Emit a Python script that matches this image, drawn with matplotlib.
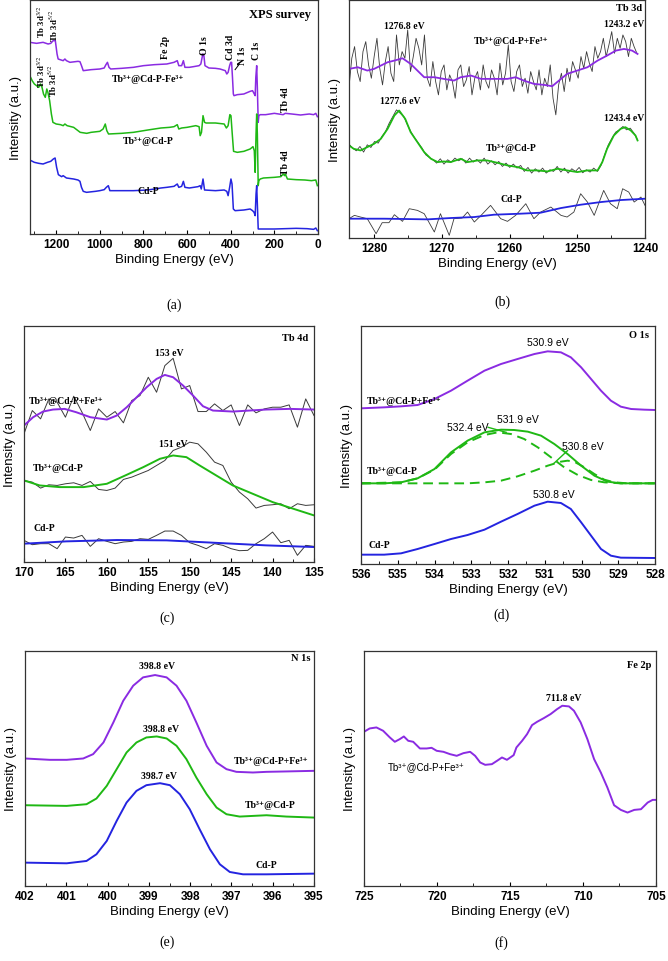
import numpy as np
import matplotlib
matplotlib.use('Agg')
import matplotlib.pyplot as plt
from matplotlib.ticker import MultipleLocator

plt.rcParams['font.family'] = ['Liberation Sans', 'DejaVu Sans']
plt.rcParams['mathtext.fontset'] = 'stix'

PURPLE = '#8a2be2'
GREEN = '#1fb814'
BLUE = '#2424e0'
GRAY = '#3a3a3a'
SERIF = ['Liberation Serif', 'DejaVu Serif']
SANS = ['Liberation Sans', 'DejaVu Sans']

# ---------------- (a) XPS survey ----------------
a_fe_x = [1321, 1290, 1260, 1237, 1225, 1214, 1204, 1196, 1191, 1168, 1160, 1153, 1137, 1100, 1091, 1084,
          1076, 1040, 1000, 980, 972, 965, 958, 950, 900, 846, 800, 750, 693, 660, 645, 638, 625, 617,
          610, 590, 571, 545, 537, 528, 523, 518, 500, 470, 449, 425, 418, 412, 405, 400, 396, 392, 388,
          385, 370, 340, 311, 300, 292, 288, 285, 281, 278, 274, 271, 265, 240, 200, 160, 150, 120, 80,
          40, 20, 10, 3]
a_fe_y = [575, 572, 575, 570, 572, 580, 580, 540, 525, 520, 525, 520, 515, 518, 517, 505,
          490, 493, 495, 498, 508, 515, 500, 495, 497, 500, 505, 508, 510, 515, 520, 505, 505, 520,
          500, 500, 502, 505, 510, 540, 535, 505, 498, 497, 495, 490, 480, 485, 505, 515, 515, 470, 420,
          415, 418, 420, 428, 430, 420, 415, 470, 505, 440, 335, 355, 358, 358, 362, 358, 362, 360, 357,
          360, 358, 362, 352]
a_tb_x = [1321, 1310, 1300, 1290, 1280, 1272, 1265, 1258, 1250, 1243, 1238, 1230, 1222, 1215, 1200, 1180,
          1168, 1160, 1150, 1120, 1100, 1090, 1060, 1040, 1000, 985, 975, 968, 960, 900, 846, 780, 720,
          680, 660, 645, 638, 625, 600, 560, 545, 540, 534, 527, 520, 513, 470, 430, 420, 412, 404, 399,
          393, 387, 370, 340, 311, 298, 292, 288, 284, 281, 278, 274, 271, 265, 250, 200, 170, 160, 153,
          150, 140, 100, 60, 30, 10, 3]
a_tb_y = [475, 460, 450, 445, 440, 450, 440, 420, 410, 435, 425, 400, 360, 335, 330, 328,
          325, 330, 325, 320, 310, 305, 302, 305, 308, 315, 330, 310, 300, 302, 305, 312, 318,
          320, 322, 328, 315, 318, 320, 325, 322, 295, 305, 355, 335, 333, 333, 330, 318, 325, 358, 355,
          300, 248, 245, 248, 255, 262, 250, 185, 300, 360, 300, 145, 160, 165, 168, 170, 172, 180, 175,
          180, 165, 163, 162, 160, 162, 145]
a_cd_x = [1321, 1300, 1280, 1260, 1240, 1225, 1213, 1205, 1198, 1190, 1175, 1168, 1153, 1120, 1100, 1091,
          1084, 1076, 1061, 1020, 1000, 980, 970, 961, 954, 900, 846, 780, 720, 693, 660, 645, 638, 625,
          617, 610, 590, 570, 550, 540, 535, 527, 520, 470, 430, 418, 412, 405, 399, 394, 388, 380, 340,
          311, 300, 293, 288, 284, 281, 278, 274, 271, 200, 100, 50, 20, 10, 3]
a_cd_y = [222, 215, 212, 210, 215, 218, 225, 228, 200, 178, 172, 175, 168, 165, 162, 158,
          140, 128, 125, 128, 130, 133, 140, 145, 130, 130, 130, 132, 138, 140, 143, 150, 140, 143,
          158, 140, 138, 140, 142, 145, 135, 165, 132, 130, 132, 128, 115, 140, 165, 150, 75, 70, 72,
          75, 70, 65, 55, 120, 145, 90, 15, 15, 15, 17, 16, 14, 18, 10]

# ---------------- (b) Tb 3d ----------------
b_fe_x = [1283.7, 1282.4, 1281.0, 1280.0, 1279.0, 1278.0, 1277.0, 1275.8, 1274.6, 1273.6, 1272.6, 1271.1,
          1269.7, 1268.2, 1267.2, 1265.7, 1264.2, 1262.3, 1260.3, 1259.1, 1257.9, 1256.4, 1254.9, 1253.7,
          1252.4, 1251.5, 1250.0, 1248.5, 1247.0, 1245.6, 1244.3, 1243.1, 1241.9, 1241.1]
b_fe_y = [508, 513, 503, 508, 518, 528, 533, 540, 523, 503, 483, 483, 478, 473, 483, 488, 478, 478, 478,
          483, 473, 463, 460, 456, 478, 493, 503, 513, 533, 548, 563, 568, 563, 553]
b_fe_raw = [453, 540, 575, 500, 470, 560, 590, 520, 480, 545, 600, 510, 460, 530, 575, 495, 470, 610, 520,
            560, 540, 625, 500, 545, 600, 570, 520, 610, 480, 455, 530, 470, 430, 500, 520, 445, 490, 470,
            420, 505, 520, 455, 475, 515, 430, 480, 500, 445, 520, 470, 450, 505, 480, 430, 525, 460, 495,
            580, 470, 440, 500, 520, 455, 480, 435, 500, 470, 445, 505, 430, 480, 455, 520, 420, 370, 460,
            495, 440, 510, 470, 530, 505, 480, 545, 510, 560, 525, 500, 575, 540, 560, 600, 545, 580, 620,
            555, 600, 570, 610, 590, 545, 600, 575, 555]
b_tb_x = [1283.7, 1283.0, 1282.0, 1281.0, 1280.0, 1279.0, 1278.0, 1277.0, 1276.3, 1275.4, 1274.6, 1273.6,
          1272.6, 1271.6, 1270.6, 1269.7, 1268.7, 1267.2, 1266.2, 1264.7, 1263.3, 1261.8, 1260.3, 1258.8,
          1257.4, 1255.9, 1254.4, 1252.9, 1251.5, 1250.0, 1248.5, 1247.0, 1246.3, 1245.6, 1244.6, 1243.6,
          1242.9, 1242.1, 1241.4, 1241.1]
b_tb_y = [278, 268, 263, 273, 283, 298, 328, 368, 383, 358, 318, 288, 258, 238, 228, 230, 228, 238, 228,
          233, 233, 226, 218, 213, 203, 203, 200, 208, 203, 198, 203, 203, 228, 268, 308, 328, 333, 323,
          308, 293]
b_tb_raw = [282, 270, 262, 275, 258, 280, 272, 290, 285, 305, 320, 345, 365, 385, 375, 365, 340, 318, 300,
            285, 270, 250, 242, 235, 225, 238, 222, 235, 228, 240, 232, 238, 225, 240, 228, 236, 225, 240,
            222, 232, 220, 230, 215, 225, 212, 222, 210, 218, 200, 212, 195, 208, 198, 210, 195, 205, 200,
            215, 198, 210, 195, 208, 200, 212, 196, 205, 198, 210, 200, 218, 250, 280, 300, 318, 325, 335,
            325, 330, 315, 295]
b_cd_x = [1283.7, 1278.5, 1272.1, 1268.7, 1265.2, 1262.3, 1258.4, 1255.4, 1252.4, 1249.5, 1246.5,
          1243.6, 1240.0]
b_cd_y = [58, 58, 56, 60, 63, 70, 73, 76, 90, 100, 108, 114, 118]
b_cd_raw_x = [1283.7, 1282.9, 1282.0, 1281.0, 1279.7, 1278.8, 1277.8, 1277.0, 1275.8, 1274.8, 1273.6,
              1272.6, 1271.1, 1270.2, 1268.9, 1268.2, 1267.0, 1266.2, 1265.2, 1264.2, 1262.8, 1261.3,
              1260.3, 1259.1, 1257.6, 1256.4, 1255.4, 1253.9, 1252.4, 1251.5, 1250.5, 1249.5, 1248.5,
              1247.5, 1246.1, 1245.1, 1244.1, 1243.3, 1242.4, 1241.6, 1240.6, 1240.0]
b_cd_raw_y = [58, 68, 63, 58, 13, 46, 46, 70, 50, 88, 83, 73, 18, 73, 8, 58, 60, 78, 48, 68, 98, 58, 50,
              68, 103, 58, 78, 93, 68, 63, 78, 133, 108, 68, 143, 103, 88, 148, 138, 108, 123, 98]

# ---------------- (c) Tb 4d ----------------
c_grid = [170, 169, 168, 167, 166, 165, 164, 163, 162, 161, 160, 159, 158, 157, 156, 155, 154, 153,
          152, 151, 150, 149, 148, 147, 146, 145, 144, 143, 142, 141, 140, 139, 138, 137, 136, 135]
c_fe_raw = [385, 455, 430, 490, 480, 435, 498, 450, 395, 460, 435, 452, 418, 485, 500, 555, 510, 590,
            612, 520, 530, 452, 452, 475, 455, 472, 410, 472, 448, 460, 465, 465, 472, 405, 490, 440]
c_tb_raw = [245, 240, 222, 232, 230, 235, 238, 230, 242, 218, 215, 222, 248, 255, 265, 275, 290, 305,
            335, 345, 360, 355, 330, 300, 290, 240, 210, 190, 162, 170, 172, 175, 160, 175, 170, 172]
c_cd_raw = [65, 52, 55, 55, 40, 75, 72, 80, 47, 70, 62, 55, 60, 62, 70, 68, 80, 93, 93, 80, 58, 50,
            40, 55, 50, 40, 34, 35, 55, 70, 90, 58, 65, 20, 50, 47]
c_fe_x = [170, 168.9, 167.7, 166.5, 165.1, 163.7, 162.0, 160.0, 158.8, 157.6, 156.4, 155.2, 154.0,
          153.0, 152.0, 150.8, 149.6, 148.4, 147.2, 144.8, 142.8, 140.8, 137.9, 135]
c_fe_y = [410, 435, 452, 458, 460, 450, 435, 428, 440, 465, 495, 525, 550, 562, 555, 530, 500, 468,
          455, 452, 455, 458, 460, 458]
c_tb_x = [170, 168.1, 165.7, 162.8, 160.0, 157.6, 155.6, 153.6, 152.0, 150.4, 148.8, 146.8, 144.8,
          142.4, 140.0, 137.5, 135]
c_tb_y = [245, 230, 225, 225, 235, 262, 285, 310, 320, 315, 290, 260, 230, 205, 180, 160, 140]
c_cd_x = [170, 164.9, 158.8, 152.8, 148.8, 144.8, 140.8, 135]
c_cd_y = [55, 62, 66, 65, 60, 55, 50, 45]

# ---------------- (d) O 1s ----------------
d_fe_x = [536, 535.37, 534.91, 534.46, 534.0, 533.55, 533.10, 532.64, 532.19, 531.74, 531.28, 530.92,
          530.56, 530.29, 530.01, 529.74, 529.47, 529.20, 528.93, 528.65, 528.29, 528.0]
d_fe_y = [467, 470, 473, 477, 495, 520, 550, 580, 600, 615, 630, 638, 635, 620, 590, 555, 520, 490,
          472, 465, 463, 462]
d_tb_x = [536, 535.37, 534.91, 534.46, 534.0, 533.55, 533.10, 532.64, 532.19, 531.83, 531.46, 531.10,
          530.74, 530.38, 530.01, 529.65, 529.29, 528.93, 528.0]
d_tb_y = [242, 242, 245, 257, 285, 335, 370, 395, 403, 402, 397, 385, 360, 330, 295, 265, 247, 242, 242]
d_p1_x = [536, 534.91, 534.46, 534.0, 533.55, 533.10, 532.64, 532.28, 531.92, 531.56, 531.19, 530.83,
          530.47, 530.10, 529.74, 529.38, 528.93, 528.0]
d_p1_y = [242, 245, 257, 283, 330, 365, 387, 395, 390, 375, 350, 320, 290, 267, 252, 245, 242, 242]
d_p2_x = [536, 533.10, 532.64, 532.19, 531.74, 531.28, 530.92, 530.56, 530.38, 530.20, 529.92, 529.65,
          529.38, 529.11, 528.74, 528.0]
d_p2_y = [242, 242, 245, 250, 263, 280, 295, 307, 310, 307, 290, 270, 253, 245, 242, 242]
d_cd_x = [536, 535.37, 534.91, 534.46, 534.0, 533.55, 533.10, 532.64, 532.19, 531.74, 531.28, 530.92,
          530.56, 530.29, 530.01, 529.74, 529.47, 529.20, 528.93, 528.0]
d_cd_y = [28, 28, 32, 45, 60, 75, 87, 103, 127, 150, 175, 187, 183, 165, 125, 85, 45, 25, 19, 18]

# ---------------- (e) N 1s ----------------
e_fe_x = [402, 401.40, 400.99, 400.59, 400.35, 400.10, 399.86, 399.62, 399.38, 399.14, 398.85, 398.57,
          398.33, 398.09, 397.85, 397.60, 397.36, 397.12, 396.88, 396.48, 396.15, 395.75, 395]
e_fe_y = [382, 378, 378, 382, 395, 430, 490, 555, 600, 625, 632, 625, 600, 555, 490, 420, 370, 350, 342,
          340, 342, 343, 345]
e_tb_x = [402, 400.99, 400.51, 400.27, 400.02, 399.78, 399.54, 399.30, 399.06, 398.81, 398.57, 398.33,
          398.09, 397.85, 397.60, 397.36, 397.12, 396.80, 396.15, 395.67, 395]
e_tb_y = [242, 240, 245, 262, 300, 350, 400, 430, 445, 448, 442, 420, 380, 325, 275, 235, 215, 208, 212,
          208, 205]
e_cd_x = [402, 400.99, 400.51, 400.27, 400.02, 399.78, 399.54, 399.30, 399.06, 398.73, 398.49, 398.25,
          398.01, 397.77, 397.52, 397.28, 397.04, 396.72, 396.15, 395]
e_cd_y = [70, 68, 75, 95, 135, 195, 250, 285, 302, 308, 302, 275, 230, 170, 110, 65, 42, 35, 35, 37]

# ---------------- (f) Fe 2p ----------------
f_x = [725, 724.61, 724.15, 723.69, 723.23, 722.89, 722.55, 722.27, 721.97, 721.63, 721.17, 720.71,
       720.37, 720.02, 719.56, 719.11, 718.65, 718.19, 717.73, 717.39, 717.04, 716.70, 716.24, 715.89,
       715.55, 715.21, 714.75, 714.56, 714.17, 713.83, 713.49, 713.14, 712.68, 712.22, 711.77, 711.42,
       710.96, 710.62, 710.16, 709.70, 709.24, 708.78, 708.33, 707.87, 707.41, 706.95, 706.49, 706.03,
       705.57, 705.23, 705]
f_y = [462, 472, 475, 465, 445, 432, 440, 448, 435, 432, 412, 412, 414, 405, 402, 395, 390, 398, 402,
       390, 370, 363, 365, 375, 385, 378, 392, 415, 435, 455, 482, 492, 503, 515, 530, 540, 538, 525,
       490, 440, 380, 340, 295, 242, 228, 220, 228, 230, 250, 258, 258]


def px(x0, x1, y0, y1):
    W, H = 668.0, 962.0
    return [x0 / W, 1 - y1 / H, (x1 - x0) / W, (y1 - y0) / H]


def style(ax, xlim, ytop, major, minor):
    ax.set_xlim(*xlim)
    ax.set_ylim(0, ytop)
    ax.set_yticks([])
    ax.xaxis.set_major_locator(MultipleLocator(major))
    ax.xaxis.set_minor_locator(MultipleLocator(minor))
    ax.tick_params(axis='x', which='major', direction='in', length=3, width=0.8, labelsize=8.5, pad=3)
    ax.tick_params(axis='x', which='minor', direction='in', length=2, width=0.6)
    for lab in ax.get_xticklabels():
        lab.set_fontweight('bold')
    for s in ax.spines.values():
        s.set_linewidth(0.9)
        s.set_color('#333333')
    ax.set_xlabel('Binding Energy (eV)', fontsize=9.5, labelpad=2)
    ax.set_ylabel('Intensity (a.u.)', fontsize=9.5, labelpad=6)


def note(ax, x, y, s, size=7, rot=0, va='center', fam=SERIF, weight='bold'):
    ax.text(x, y, s, fontsize=size, rotation=rot, ha='center', va=va, family=fam, fontweight=weight)


fig = plt.figure(figsize=(6.68, 9.62), dpi=100)

# (a)
ax = fig.add_axes(px(30, 318, 1, 235))
ax.plot(a_fe_x, a_fe_y, color=PURPLE, lw=1.1)
ax.plot(a_tb_x, a_tb_y, color=GREEN, lw=1.1)
ax.plot(a_cd_x, a_cd_y, color=BLUE, lw=1.1)
style(ax, (1320, 0), 702, 200, 100)
note(ax, 173, 660, 'XPS survey', size=9)
note(ax, 1267, 590, 'Tb 3d$^{3/2}$', size=6.3, rot=90, va='bottom')
note(ax, 1211, 580, 'Tb 3d$^{5/2}$', size=6.3, rot=90, va='bottom')
note(ax, 701, 527, 'Fe 2p', size=7, rot=90, va='bottom')
note(ax, 522, 540, 'O 1s', size=7, rot=90, va='bottom')
note(ax, 403, 525, 'Cd 3d', size=7, rot=90, va='bottom')
note(ax, 344, 510, 'N 1s', size=7, rot=90, va='bottom')
ax.plot([360, 380], [510, 493], color='black', lw=0.7)
note(ax, 280, 525, 'C 1s', size=7, rot=90, va='bottom')
note(ax, 147, 370, 'Tb 4d', size=7, rot=90, va='bottom')
note(ax, 1267, 440, 'Tb 3d$^{3/2}$', size=6.3, rot=90, va='bottom')
note(ax, 1214, 415, 'Tb 3d$^{5/2}$', size=6.3, rot=90, va='bottom')
note(ax, 147, 180, 'Tb 4d', size=7, rot=90, va='bottom')
note(ax, 778, 465, 'Tb³⁺@Cd-P-Fe³⁺')
note(ax, 778, 280, 'Tb³⁺@Cd-P')
note(ax, 778, 130, 'Cd-P')

# (b)
ax = fig.add_axes(px(349, 645, 1, 239))
ax.plot(np.linspace(1283.7, 1241.2, len(b_fe_raw)), b_fe_raw, color=GRAY, lw=0.6)
ax.plot(b_fe_x, b_fe_y, color=PURPLE, lw=1.3)
ax.plot(np.linspace(1283.7, 1241.1, len(b_tb_raw)), b_tb_raw, color=GRAY, lw=0.6)
ax.plot(b_tb_x, b_tb_y, color=GREEN, lw=1.3)
ax.plot(b_cd_raw_x, b_cd_raw_y, color=GRAY, lw=0.6)
ax.plot(b_cd_x, b_cd_y, color=BLUE, lw=1.3)
style(ax, (1283.7, 1240), 715, 10, 5)
note(ax, 1242.4, 693, 'Tb 3d', size=7.5)
note(ax, 1275.6, 638, '1276.8 eV')
note(ax, 1243.1, 643, '1243.2 eV')
note(ax, 1259.8, 593, 'Tb³⁺@Cd-P+Fe³⁺')
note(ax, 1276.1, 413, '1277.6 eV')
note(ax, 1243.1, 363, '1243.4 eV')
note(ax, 1259.8, 273, 'Tb³⁺@Cd-P')
note(ax, 1259.8, 120, 'Cd-P')

# (c)
ax = fig.add_axes(px(24, 314, 327, 563))
ax.plot(c_grid, c_fe_raw, color=GRAY, lw=0.7)
ax.plot(c_fe_x, c_fe_y, color=PURPLE, lw=1.4)
ax.plot(c_grid, c_tb_raw, color=GRAY, lw=0.7)
ax.plot(c_tb_x, c_tb_y, color=GREEN, lw=1.4)
ax.plot(c_grid, c_cd_raw, color=GRAY, lw=0.7)
ax.plot(c_cd_x, c_cd_y, color=BLUE, lw=1.4)
style(ax, (170, 135), 709, 5, 2.5)
note(ax, 137.3, 675, 'Tb 4d', size=7.5)
note(ax, 152.5, 630, '153 eV')
note(ax, 164.9, 485, 'Tb³⁺@Cd-P+Fe³⁺')
note(ax, 152.0, 355, '151 eV')
note(ax, 165.9, 285, 'Tb³⁺@Cd-P')
note(ax, 167.5, 105, 'Cd-P')

# (d)
ax = fig.add_axes(px(361, 655, 327, 565))
ax.plot(d_fe_x, d_fe_y, color=PURPLE, lw=1.4)
ax.plot(d_tb_x, d_tb_y, color=GREEN, lw=1.4)
ax.plot(d_p1_x, d_p1_y, color=GREEN, lw=1.4, ls=(0, (5, 3)))
ax.plot(d_p2_x, d_p2_y, color=GREEN, lw=1.4, ls=(0, (5, 3)))
ax.plot(d_cd_x, d_cd_y, color=BLUE, lw=1.4)
style(ax, (536, 528), 714, 1, 0.5)
note(ax, 528.43, 690, 'O 1s', size=7.5)
note(ax, 530.92, 665, '530.9 eV', size=7.5, fam=SANS, weight='normal')
note(ax, 534.82, 490, 'Tb³⁺@Cd-P+Fe³⁺')
note(ax, 533.10, 410, '532.4 eV', size=7.5, fam=SANS, weight='normal')
ax.plot([532.54, 532.05], [410, 395], color=GREEN, lw=1.0)
note(ax, 531.74, 435, '531.9 eV', size=7.5, fam=SANS, weight='normal')
note(ax, 529.97, 355, '530.8 eV', size=7.5, fam=SANS, weight='normal')
ax.plot([530.38, 530.74], [340, 303], color=GREEN, lw=1.0)
note(ax, 535.14, 280, 'Tb³⁺@Cd-P')
note(ax, 530.74, 210, '530.8 eV', size=7.5, fam=SANS, weight='normal')
note(ax, 535.5, 60, 'Cd-P')

# (e)
ax = fig.add_axes(px(25, 314, 652, 887))
ax.plot(e_fe_x, e_fe_y, color=PURPLE, lw=1.4)
ax.plot(e_tb_x, e_tb_y, color=GREEN, lw=1.4)
ax.plot(e_cd_x, e_cd_y, color=BLUE, lw=1.4)
style(ax, (402, 395), 704, 1, 0.5)
note(ax, 395.31, 686, 'N 1s', size=7.5)
note(ax, 398.81, 660, '398.8 eV')
note(ax, 398.71, 472, '398.8 eV')
note(ax, 398.76, 330, '398.7 eV')
note(ax, 396.03, 375, 'Tb³⁺@Cd-P+Fe³⁺')
note(ax, 396.07, 243, 'Tb³⁺@Cd-P')
note(ax, 396.15, 65, 'Cd-P')

# (f)
ax = fig.add_axes(px(364, 656, 652, 887))
ax.plot(f_x, f_y, color=PURPLE, lw=1.4)
style(ax, (725, 705), 704, 5, 2.5)
note(ax, 706.15, 665, 'Fe 2p', size=7.5)
note(ax, 711.31, 565, '711.8 eV')
note(ax, 720.76, 360, 'Tb³⁺@Cd-P+Fe³⁺', fam=SANS, weight='normal')

for lab, x, y in [('(a)', 174, 305), ('(b)', 502, 302), ('(c)', 167, 618),
                  ('(d)', 501, 615), ('(e)', 167, 942), ('(f)', 501, 943)]:
    fig.text(x / 668, 1 - y / 962, lab, ha='center', va='center', fontsize=10, family=SERIF)

fig.savefig('out.png', dpi=100)
